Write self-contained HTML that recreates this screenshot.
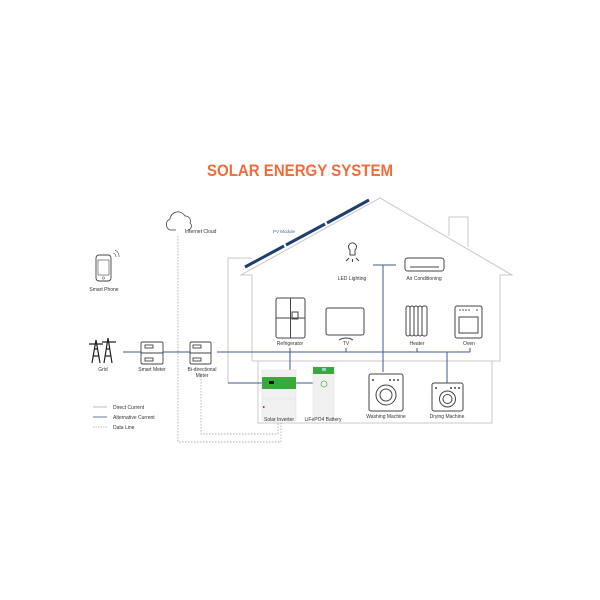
<!DOCTYPE html>
<html><head><style>
html,body{margin:0;padding:0;background:#fff;width:600px;height:600px;overflow:hidden}
svg{display:block}
text{font-family:"Liberation Sans",sans-serif;font-size:5px;fill:#333}
</style></head><body>
<svg width="600" height="600" viewBox="0 0 600 600">
<text x="207" y="176" textLength="186" lengthAdjust="spacingAndGlyphs" style="font-size:17px;font-weight:bold;fill:#f26b3a">SOLAR ENERGY SYSTEM</text>
<!-- house -->
<g fill="none" stroke="#c8c8cc" stroke-width="1">
<polyline points="252,361 252,275 241,275 380,198 512,275 500,275 500,361 252,361"/>
<polyline points="449,236 449,217 468,217 468,247"/>
<polyline points="228,383 228,258 252,258"/>
<polyline points="258,361 258,423 492,423 492,361"/>
</g>
<!-- PV -->
<g stroke="#1f3f73" stroke-width="3">
<line x1="245" y1="267" x2="284" y2="246"/><line x1="286" y1="245" x2="325" y2="224"/><line x1="327" y1="223" x2="369" y2="200"/>
</g>
<text x="273" y="233" style="fill:#4a6a9a;font-size:4.5px">PV Module</text>
<!-- cloud -->
<path d="M176,230 h-6 a6,6 0 0 1 0,-11 a8,8 0 0 1 15,-3 a5,5 0 0 1 5,7 a4,4 0 0 1 -2,7" fill="none" stroke="#444" stroke-width="0.8"/>
<text x="185" y="233">Internet Cloud</text>
<!-- data lines -->
<g fill="none" stroke="#999" stroke-width="0.7" stroke-dasharray="1.5,1.5">
<polyline points="178,236 178,442 281,442 281,423"/>
<polyline points="201,373 201,434 278,434 278,423"/>
</g>
<!-- phone -->
<rect x="96" y="255" width="15" height="26" rx="3" fill="none" stroke="#444" stroke-width="0.9"/>
<rect x="98" y="260" width="11" height="15" fill="none" stroke="#444" stroke-width="0.6"/>
<circle cx="103.5" cy="278" r="1.2" fill="none" stroke="#444" stroke-width="0.5"/>
<path d="M113,253 a4,4 0 0 1 3,4 M115,250 a7,7 0 0 1 4,7" fill="none" stroke="#444" stroke-width="0.6"/>
<text x="104" y="291" text-anchor="middle">Smart Phone</text>
<!-- AC lines -->
<g stroke="#3d5a8c" stroke-width="1" fill="none">
<line x1="123" y1="352" x2="141" y2="352"/><line x1="163" y1="352" x2="190" y2="352"/>
<line x1="217" y1="352" x2="470" y2="352"/>
<polyline points="470,352 470,348"/><line x1="417" y1="352" x2="417" y2="348"/><line x1="346" y1="352" x2="346" y2="348"/>
<line x1="290" y1="348" x2="290" y2="370"/>
<line x1="447" y1="352" x2="447" y2="383"/>
<line x1="383" y1="265" x2="383" y2="372"/><line x1="373" y1="265" x2="396" y2="265"/>
<polyline points="228,383 262,383"/><line x1="296" y1="383" x2="313" y2="383"/>
</g>
<!-- grid tower -->
<g stroke="#222" stroke-width="1.2" fill="none">
<path d="M92,363 L96,340 L100,363 M93,356 h6 M94,349 h4 M89,344 h14"/>
<path d="M104,363 L108,338 L112,363 M105,356 h6 M106,349 h4 M102,342 h14"/>
</g>
<text x="103" y="371" text-anchor="middle">Grid</text>
<!-- meters -->
<g fill="none" stroke="#444" stroke-width="0.9">
<rect x="141" y="342" width="22" height="22" rx="1.5"/><rect x="145" y="345" width="8" height="3"/><rect x="145" y="358" width="8" height="3"/><line x1="141" y1="353" x2="163" y2="353"/>
<rect x="190" y="342" width="21" height="22" rx="1.5"/><rect x="193" y="345" width="8" height="3"/><rect x="193" y="358" width="8" height="3"/><line x1="190" y1="353" x2="211" y2="353"/>
</g>
<text x="152" y="371" text-anchor="middle">Smart Meter</text>
<text x="202" y="371" text-anchor="middle">Bi-directional</text><text x="202" y="377" text-anchor="middle">Meter</text>
<!-- appliances -->
<g fill="none" stroke="#444" stroke-width="1">
<path d="M350,250 a4,4 0 1 1 5,0 l0,5 h-5 z M349,258 l-3,3 M356,258 l3,3 M352.5,259 v3"/>
<rect x="405" y="258" width="39" height="13" rx="2.5"/><line x1="410" y1="267" x2="439" y2="267"/>
<rect x="276" y="298" width="29" height="40" rx="2"/><line x1="290.5" y1="298" x2="290.5" y2="338"/><line x1="276" y1="318" x2="305" y2="318"/><rect x="292" y="312" width="6" height="7"/>
<rect x="326" y="308" width="38" height="27" rx="2"/><path d="M339,340 q7,-4 14,0"/>
<rect x="406" y="306" width="4" height="30" rx="2"/><rect x="410" y="306" width="4" height="30" rx="2"/><rect x="414" y="306" width="4" height="30" rx="2"/><rect x="418" y="306" width="4" height="30" rx="2"/><rect x="422" y="306" width="5" height="30" rx="2"/>
<rect x="455" y="306" width="27" height="32" rx="2"/><rect x="459" y="317" width="19" height="16"/>
<rect x="369" y="374" width="34" height="37" rx="2"/><circle cx="386" cy="395" r="10"/><circle cx="386" cy="395" r="6"/>
<rect x="432" y="383" width="31" height="28" rx="2"/><circle cx="447.5" cy="399" r="8"/><circle cx="447.5" cy="399" r="4.5"/>
</g>
<g fill="#444"><circle cx="460" cy="310" r="0.8"/><circle cx="463" cy="310" r="0.8"/><circle cx="466" cy="310" r="0.8"/><circle cx="469" cy="310" r="0.8"/><circle cx="477" cy="310" r="0.8"/>
<circle cx="373" cy="380" r="1"/><circle cx="390" cy="380" r="1"/><circle cx="394" cy="380" r="1"/><circle cx="398" cy="380" r="1"/>
<circle cx="436" cy="388" r="1"/><circle cx="451" cy="388" r="1"/><circle cx="455" cy="388" r="1"/><circle cx="459" cy="388" r="1"/></g>
<text x="352" y="280" text-anchor="middle">LED Lighting</text>
<text x="424" y="280" text-anchor="middle">Air Conditioning</text>
<text x="290" y="345" text-anchor="middle">Refrigerator</text>
<text x="346" y="345" text-anchor="middle">TV</text>
<text x="417" y="345" text-anchor="middle">Heater</text>
<text x="469" y="345" text-anchor="middle">Oven</text>
<text x="386" y="418" text-anchor="middle">Washing Machine</text>
<text x="447" y="418" text-anchor="middle">Drying Machine</text>
<!-- inverter & battery -->
<rect x="262" y="370" width="34" height="51" fill="#f0f0f0" stroke="#ddd" stroke-width="0.5"/>
<rect x="262" y="377" width="34" height="12" fill="#3aa83a"/>
<rect x="269" y="381" width="5" height="3" fill="#111"/>
<line x1="262" y1="399" x2="296" y2="399" stroke="#ddd" stroke-width="0.5"/>
<rect x="263" y="406" width="1.5" height="2" fill="#c33"/>
<rect x="313" y="367" width="21" height="51" fill="#f0f0f0" stroke="#ddd" stroke-width="0.5"/>
<rect x="313" y="367" width="21" height="7" fill="#3aa83a"/><rect x="322" y="368" width="4" height="3" fill="#9cd"/>
<circle cx="324" cy="384" r="3" fill="none" stroke="#5b5" stroke-width="0.8"/>
<text x="279" y="421" text-anchor="middle">Solar Inverter</text>
<text x="323" y="421" text-anchor="middle">LiFePO4 Battery</text>
<!-- legend -->
<line x1="93" y1="407" x2="107" y2="407" stroke="#aaa" stroke-width="0.8"/>
<line x1="93" y1="417" x2="107" y2="417" stroke="#3d5a8c" stroke-width="0.8"/>
<line x1="93" y1="427" x2="107" y2="427" stroke="#aaa" stroke-width="0.8" stroke-dasharray="1.5,1"/>
<text x="113" y="409">Direct Current</text>
<text x="113" y="419">Alternative Current</text>
<text x="113" y="429">Data Line</text>
</svg>
</body></html>
